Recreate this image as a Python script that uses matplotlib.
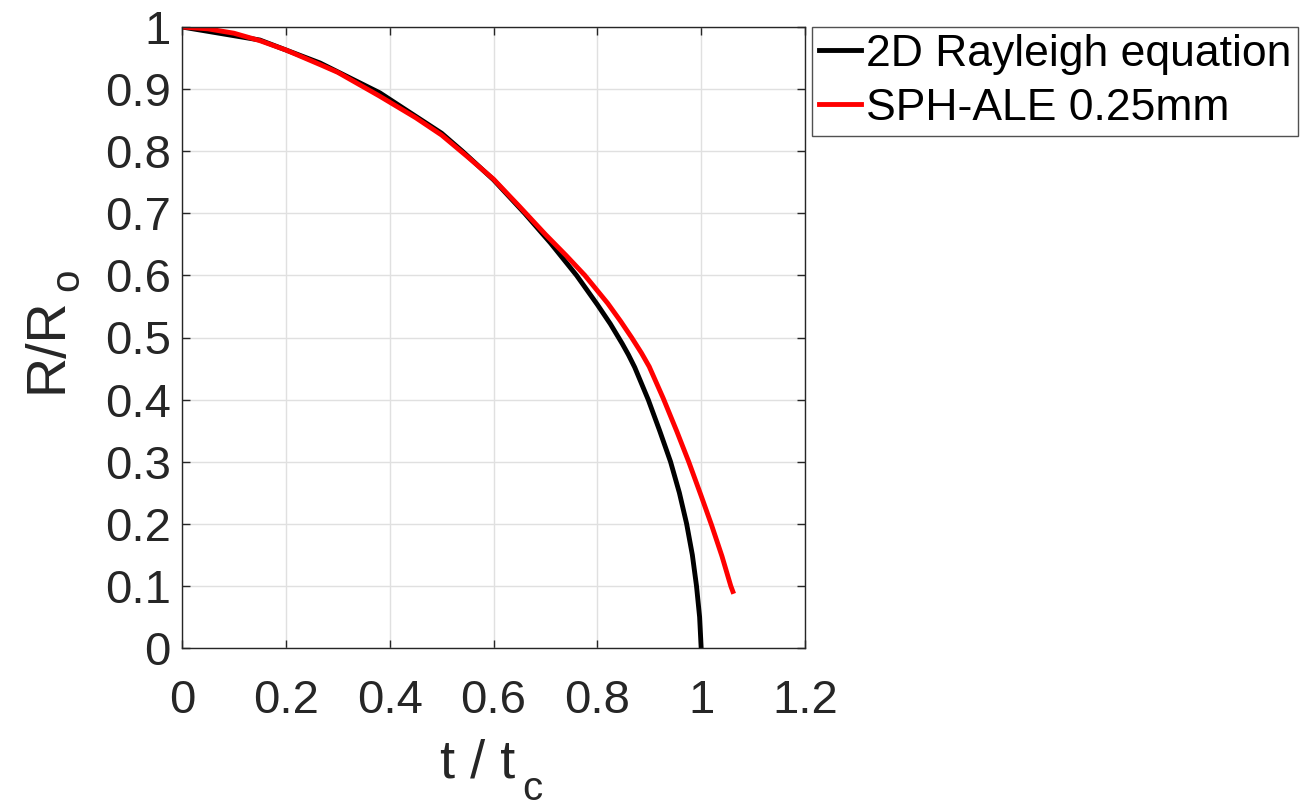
import matplotlib
matplotlib.use("Agg")
import matplotlib.pyplot as plt

# 2D Rayleigh equation
t_rayleigh = [0, 0.15, 0.266, 0.381, 0.50, 0.54, 0.60, 0.66, 0.71, 0.76, 0.80,
              0.825, 0.848, 0.86, 0.872, 0.898, 0.92, 0.941, 0.958, 0.972,
              0.983, 0.991, 0.997, 1.0]
r_rayleigh = [1, 0.979, 0.942, 0.894, 0.829, 0.80, 0.754, 0.70, 0.652, 0.60,
              0.553, 0.522, 0.49, 0.472, 0.452, 0.40, 0.35, 0.30, 0.25, 0.20,
              0.15, 0.10, 0.05, 0.0]

# SPH-ALE 0.25mm
t_sph = [0, 0.05, 0.10, 0.15, 0.20, 0.27, 0.30, 0.38, 0.45, 0.50, 0.55, 0.60,
         0.65, 0.70, 0.74, 0.776, 0.82, 0.845, 0.866, 0.885, 0.90, 0.927,
         0.953, 0.976, 1.0, 1.02, 1.04, 1.057, 1.061]
r_sph = [1, 0.997, 0.990, 0.978, 0.963, 0.938, 0.927, 0.889, 0.854, 0.826,
         0.791, 0.755, 0.711, 0.666, 0.632, 0.60, 0.555, 0.526, 0.50, 0.475,
         0.453, 0.402, 0.349, 0.30, 0.245, 0.198, 0.148, 0.10, 0.091]

xticks = [0, 0.2, 0.4, 0.6, 0.8, 1, 1.2]
xticklabels = ["0", "0.2", "0.4", "0.6", "0.8", "1", "1.2"]
yticks = [0, 0.1, 0.2, 0.3, 0.4, 0.5, 0.6, 0.7, 0.8, 0.9, 1]
yticklabels = ["0", "0.1", "0.2", "0.3", "0.4", "0.5", "0.6", "0.7", "0.8", "0.9", "1"]

plt.rcParams["font.family"] = ["Liberation Sans", "DejaVu Sans"]

fig = plt.figure(figsize=(13.05, 8.07), dpi=100)
ax = fig.add_axes([182 / 1305, 1 - 648 / 807, (805 - 182) / 1305, (648 - 27) / 807])

ax.plot(t_rayleigh, r_rayleigh, color="black", lw=3.5, label="2D Rayleigh equation")
ax.plot(t_sph, r_sph, color="#ff0000", lw=3.5, label="SPH-ALE 0.25mm")

ax.set_xlim(0, 1.2)
ax.set_ylim(0, 1)
ax.set_xticks(xticks)
ax.set_xticklabels(xticklabels)
ax.set_yticks(yticks)
ax.set_yticklabels(yticklabels)

ax.grid(True, color="#e0e0e0", lw=1)
ax.set_axisbelow(True)
ax.tick_params(direction="in", top=True, right=True, length=6, width=1,
               labelsize=34, labelcolor="#262626", color="#262626")
ax.tick_params(axis="x", pad=22)
ax.tick_params(axis="y", pad=8)
for s in ax.spines.values():
    s.set_color("#262626")
    s.set_linewidth(1)

# axis labels, MATLAB style with a low subscript
lab = dict(color="#262626", transform=ax.transAxes, rotation_mode="anchor")
ax.text(0.535, -0.209, "t / t", fontsize=39, ha="right", va="baseline", **lab)
ax.text(0.546, -0.244, "c", fontsize=29, ha="left", va="baseline", **lab)
ax.text(-0.193, 0.41, "R/R", fontsize=40, rotation=90, ha="left",
        va="baseline", **lab)
ax.text(-0.166, 0.575, "o", fontsize=29, rotation=90, ha="left",
        va="baseline", **lab)

leg = fig.legend(loc="upper left", bbox_to_anchor=(812 / 1305, 1 - 27 / 807),
                 fontsize=32, frameon=True, fancybox=False, borderaxespad=0,
                 handlelength=0.95, handletextpad=0.12, borderpad=0.15,
                 labelspacing=0.3)
leg.get_frame().set_edgecolor("#262626")
leg.get_frame().set_linewidth(1)

fig.savefig("out.png", dpi=100)
